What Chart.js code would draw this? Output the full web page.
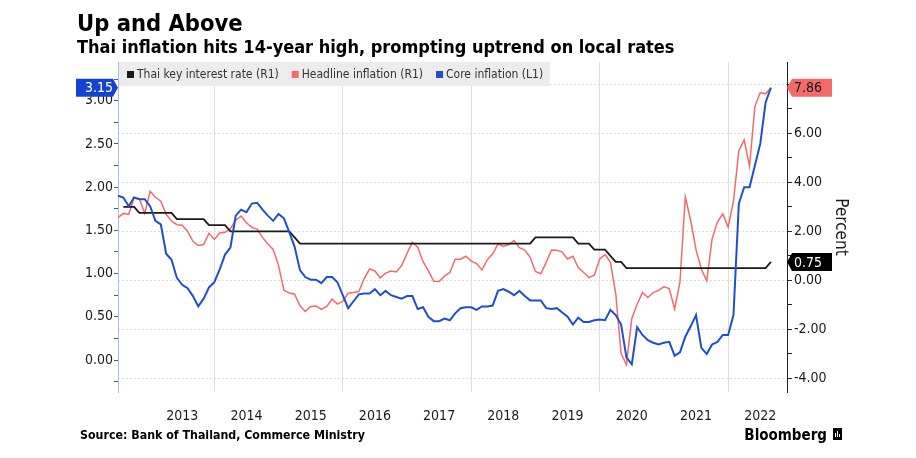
<!DOCTYPE html>
<html>
<head>
<meta charset="utf-8">
<title>Up and Above</title>
<script src="https://cdn.jsdelivr.net/npm/chart.js"></script>
<style>
  html, body { margin: 0; padding: 0; background: #fff; }
  #wrap { width: 916px; height: 458px; }
</style>
</head>
<body>
<div id="wrap"><canvas id="chart" width="916" height="458"></canvas></div>
<script>
// month-end prints, June 2012 onward; the axis runs on to end-Nov 2022
const firstYear = 2012, firstMonth = 6, axisMonths = 126;
const months = [];
for (let i = 0; i < axisMonths; i++) {
    const m = firstMonth - 1 + i;
    months.push(`${firstYear + Math.floor(m / 12)}-${String(m % 12 + 1).padStart(2, '0')}`);
}

// Thai key interest rate, % (R1)
const policyRate = [
    null, 3.00, 3.00, 3.00, 2.75, 2.75, 2.75,
    2.75, 2.75, 2.75, 2.75, 2.50, 2.50, 2.50, 2.50, 2.50, 2.50, 2.25, 2.25,
    2.25, 2.25, 2.00, 2.00, 2.00, 2.00, 2.00, 2.00, 2.00, 2.00, 2.00, 2.00,
    2.00, 2.00, 1.75, 1.50, 1.50, 1.50, 1.50, 1.50, 1.50, 1.50, 1.50, 1.50,
    1.50, 1.50, 1.50, 1.50, 1.50, 1.50, 1.50, 1.50, 1.50, 1.50, 1.50, 1.50,
    1.50, 1.50, 1.50, 1.50, 1.50, 1.50, 1.50, 1.50, 1.50, 1.50, 1.50, 1.50,
    1.50, 1.50, 1.50, 1.50, 1.50, 1.50, 1.50, 1.50, 1.50, 1.50, 1.50, 1.75,
    1.75, 1.75, 1.75, 1.75, 1.75, 1.75, 1.75, 1.50, 1.50, 1.50, 1.25, 1.25,
    1.25, 1.00, 0.75, 0.75, 0.50, 0.50, 0.50, 0.50, 0.50, 0.50, 0.50, 0.50,
    0.50, 0.50, 0.50, 0.50, 0.50, 0.50, 0.50, 0.50, 0.50, 0.50, 0.50, 0.50,
    0.50, 0.50, 0.50, 0.50, 0.50, 0.50, 0.50, 0.75
];

// headline CPI, % y/y (R1)
const headline = [
    2.56, 2.73, 2.69, 3.38, 3.32, 2.74, 3.63,
    3.39, 3.23, 2.69, 2.42, 2.27, 2.25, 2.00, 1.59, 1.42, 1.46, 1.92, 1.67,
    1.93, 1.96, 2.11, 2.45, 2.62, 2.35, 2.16, 2.09, 1.75, 1.48, 1.26, 0.60,
    -0.41, -0.52, -0.57, -1.04, -1.27, -1.07, -1.05, -1.19, -1.07, -0.77, -0.97, -0.85,
    -0.53, -0.50, -0.46, 0.07, 0.46, 0.38, 0.10, 0.29, 0.38, 0.34, 0.60, 1.10,
    1.55, 1.35, 0.76, 0.38, -0.04, -0.05, 0.17, 0.32, 0.86, 0.86, 0.98, 0.78,
    0.68, 0.42, 0.84, 1.07, 1.49, 1.38, 1.46, 1.62, 1.33, 1.23, 0.94, 0.36,
    0.27, 0.73, 1.24, 1.23, 1.15, 0.87, 0.98, 0.52, 0.32, 0.11, 0.21, 0.87,
    1.05, 0.74, -0.54, -2.99, -3.44, -1.57, -0.98, -0.50, -0.70, -0.50, -0.41, -0.27,
    -0.34, -1.17, -0.08, 3.41, 2.44, 1.25, 0.45, -0.02, 1.68, 2.38, 2.71, 2.17,
    3.23, 5.28, 5.73, 4.65, 7.10, 7.66, 7.61, 7.86
];

// core CPI, % y/y (L1)
const core = [
    1.90, 1.88, 1.78, 1.88, 1.86, 1.86, 1.78,
    1.61, 1.57, 1.23, 1.16, 0.95, 0.87, 0.83, 0.74, 0.62, 0.71, 0.84, 0.90,
    1.05, 1.22, 1.30, 1.67, 1.74, 1.71, 1.81, 1.82, 1.74, 1.67, 1.61, 1.69,
    1.64, 1.48, 1.31, 1.04, 0.96, 0.93, 0.93, 0.89, 0.96, 0.96, 0.90, 0.75,
    0.60, 0.68, 0.76, 0.77, 0.77, 0.82, 0.75, 0.80, 0.75, 0.73, 0.71, 0.74,
    0.74, 0.59, 0.61, 0.50, 0.45, 0.45, 0.48, 0.46, 0.54, 0.60, 0.61, 0.61,
    0.58, 0.62, 0.62, 0.63, 0.80, 0.82, 0.79, 0.75, 0.80, 0.74, 0.69, 0.69,
    0.69, 0.60, 0.59, 0.60, 0.55, 0.50, 0.41, 0.49, 0.44, 0.44, 0.46, 0.47,
    0.46, 0.58, 0.52, 0.41, 0.03, -0.05, 0.38, 0.29, 0.23, 0.20, 0.18, 0.20,
    0.21, 0.05, 0.09, 0.27, 0.39, 0.52, 0.14, 0.07, 0.18, 0.21, 0.29, 0.29,
    0.52, 1.81, 2.00, 2.00, 2.25, 2.50, 2.98, 3.15
];

const leftTicks = [-0.25, 0, 0.25, 0.5, 0.75, 1, 1.25, 1.5, 1.75, 2, 2.25, 2.5, 2.75, 3, 3.25];
const rightTicks = [-4, -3, -2, -1, 0, 1, 2, 3, 4, 5, 6, 7, 8];

const title = 'Up and Above';
const subtitle = 'Thai inflation hits 14-year high, prompting uptrend on local rates';
const source = 'Source: Bank of Thailand, Commerce Ministry';

const FONT = "'DejaVu Sans Condensed', 'DejaVu Sans', sans-serif";
Chart.defaults.font.family = FONT;
Chart.defaults.color = '#1a1a1a';

const isMajor = v => Math.abs(v * 2 - Math.round(v * 2)) < 1e-9;

// legend band, end-value badges and all the loose text
const decorations = {
    id: 'decorations',
    afterDraw(chart) {
        const { ctx, chartArea: a } = chart;
        ctx.save();

        // legend strip inside the top of the plot
        ctx.font = `12px ${FONT}`;
        let x = a.left + 9;
        const items = chart.data.datasets.map(ds => {
            const item = { x, ds };
            x += 10 + ctx.measureText(ds.label).width + 13;
            return item;
        });
        ctx.fillStyle = '#ececec';
        ctx.fillRect(a.left + 1, a.top, x - 13 + 6 - a.left, 24);
        ctx.textBaseline = 'alphabetic';
        items.forEach(it => {
            ctx.fillStyle = it.ds.borderColor;
            ctx.fillRect(it.x, 71, 7, 7);
            ctx.fillStyle = '#333';
            ctx.fillText(it.ds.label, it.x + 10, 78);
        });

        // last-value badges
        ctx.font = `14px ${FONT}`;
        ctx.textBaseline = 'middle';
        chart.data.datasets.forEach(ds => {
            let i = ds.data.length - 1;
            while (i >= 0 && ds.data[i] == null) i--;
            const v = ds.data[i];
            const y = chart.scales[ds.yAxisID].getPixelForValue(v);
            ctx.fillStyle = ds.badgeFill;
            ctx.beginPath();
            if (ds.yAxisID === 'yL') {
                ctx.moveTo(76, y - 9); ctx.lineTo(a.left - 5, y - 9); ctx.lineTo(a.left, y);
                ctx.lineTo(a.left - 5, y + 9); ctx.lineTo(76, y + 9);
            } else {
                ctx.moveTo(a.right, y); ctx.lineTo(a.right + 5, y - 9); ctx.lineTo(832, y - 9);
                ctx.lineTo(832, y + 9); ctx.lineTo(a.right + 5, y + 9);
            }
            ctx.closePath();
            ctx.fill();
            ctx.fillStyle = ds.badgeText;
            if (ds.yAxisID === 'yL') {
                ctx.textAlign = 'right';
                ctx.fillText(v.toFixed(2), a.left - 5, y + 1);
            } else {
                ctx.textAlign = 'left';
                ctx.fillText(v.toFixed(2), a.right + 7, y + 1);
            }
        });

        // right axis name
        ctx.save();
        ctx.translate(840, 227);
        ctx.rotate(Math.PI / 2);
        ctx.textAlign = 'center';
        ctx.fillStyle = '#1a1a1a';
        ctx.font = `17px ${FONT}`;
        ctx.fillText('Percent', 0, 0);
        ctx.restore();

        // headings and footer
        ctx.textAlign = 'left';
        ctx.textBaseline = 'alphabetic';
        ctx.fillStyle = '#000';
        ctx.font = `bold 23.5px ${FONT}`;
        ctx.fillText(title, 77, 31);
        ctx.font = `bold 18px ${FONT}`;
        ctx.fillText(subtitle, 77, 53);
        ctx.font = `bold 12.3px ${FONT}`;
        ctx.fillText(source, 80, 439);
        ctx.font = `bold 15px ${FONT}`;
        ctx.textAlign = 'right';
        ctx.fillText('Bloomberg', 827, 440);
        ctx.fillRect(833, 428, 9, 12);
        ctx.fillStyle = '#fff';
        ctx.fillRect(835, 433, 1, 4);
        ctx.fillRect(837, 431, 1, 6);
        ctx.fillRect(839, 434, 1, 3);
        ctx.restore();
    }
};

new Chart(document.getElementById('chart'), {
    type: 'line',
    data: {
        labels: months,
        datasets: [
            { label: 'Thai key interest rate (R1)', data: policyRate, yAxisID: 'yR', borderColor: '#1a1a1a', borderWidth: 1.8, order: 1, badgeFill: '#000', badgeText: '#fff' },
            { label: 'Headline inflation (R1)', data: headline, yAxisID: 'yR', borderColor: '#f26a6a', borderWidth: 1.5, order: 2, badgeFill: '#f26a6a', badgeText: '#1a1a1a' },
            { label: 'Core inflation (L1)', data: core, yAxisID: 'yL', borderColor: '#1f4fd0', borderWidth: 2, order: 0, badgeFill: '#1443d2', badgeText: '#fff' }
        ]
    },
    options: {
        responsive: false,
        animation: false,
        layout: { padding: { top: 62, left: 0, right: 0, bottom: 0 } },
        elements: { point: { radius: 0 }, line: { tension: 0 } },
        plugins: { legend: { display: false }, tooltip: { enabled: false } },
        scales: {
            x: {
                afterFit: s => { s.height = 66; },
                border: { display: false },
                grid: {
                    drawTicks: false,
                    color: c => {
                        const lab = months[c.index] || '';
                        return lab.endsWith('-12') && Number(lab.slice(0, 4)) % 2 === 1 ? '#dedede' : 'rgba(0,0,0,0)';
                    }
                },
                ticks: {
                    autoSkip: false, maxRotation: 0, padding: 16,
                    font: { size: 14 },
                    callback: (v, i) => (i > 0 && months[i].endsWith('-06')) ? months[i].slice(0, 4) : ''
                }
            },
            yL: {
                position: 'left', min: -0.37, max: 3.448,
                afterBuildTicks: s => { s.ticks = leftTicks.map(v => ({ value: v })); },
                afterFit: s => { s.width = 118; },
                border: { color: '#a9bfe8' },
                grid: { drawOnChartArea: false, tickLength: 4, tickColor: '#2b59cf' },
                ticks: { padding: 1, font: { size: 14 }, callback: v => isMajor(v) ? v.toFixed(2) : '' }
            },
            yR: {
                position: 'right', min: -4.56, max: 8.91,
                afterBuildTicks: s => { s.ticks = rightTicks.map(v => ({ value: v })); },
                afterFit: s => { s.width = 129; },
                border: { color: '#222', dash: [2, 2] },
                grid: {
                    tickLength: 5, tickColor: '#222',
                    color: c => (c.tick && c.tick.value % 2 === 0) ? '#dcdcdc' : 'rgba(0,0,0,0)'
                },
                ticks: { padding: 2, font: { size: 14 }, callback: v => (v % 2 === 0 && v < 8) ? v.toFixed(2) : '' }
            }
        }
    },
    plugins: [decorations]
});
</script>
</body>
</html>
